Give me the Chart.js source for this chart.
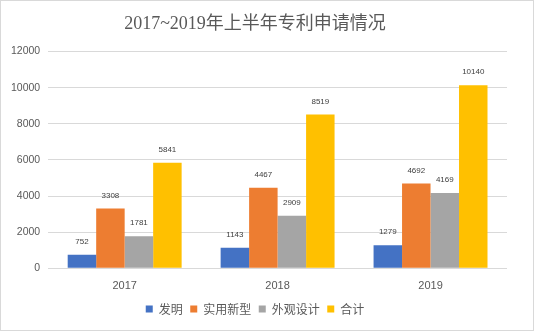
<!DOCTYPE html>
<html><head><meta charset="utf-8">
<script src="https://cdn.jsdelivr.net/npm/chart.js@4"></script>
<style>
html,body{margin:0;padding:0;background:#fff;}
#wrap{position:relative;width:532px;height:329px;border:1px solid #d9d9d9;}
canvas{display:block;}
</style></head><body>
<div id="wrap"><canvas id="c" width="532" height="329"></canvas></div>
<script>
const categories = ['2017', '2018', '2019'];
const seriesNames = ['发明', '实用新型', '外观设计', '合计'];
const invention = [752, 1143, 1279];
const utility = [3308, 4467, 4692];
const design = [1781, 2909, 4169];
const total = [5841, 8519, 10140];
const yTicks = [0, 2000, 4000, 6000, 8000, 10000, 12000];
const colors = ['#4472c4', '#ed7d31', '#a5a5a5', '#ffc000'];
const titleText = '2017~2019年上半年专利申请情况';

const labelPlugin = {
  id: 'barLabels',
  afterDatasetsDraw(chart) {
    const ctx = chart.ctx;
    ctx.save();
    ctx.font = '8px "Liberation Sans", sans-serif';
    ctx.fillStyle = '#404040';
    ctx.textAlign = 'center';
    ctx.textBaseline = 'middle';
    chart.data.datasets.forEach((ds, i) => {
      chart.getDatasetMeta(i).data.forEach((bar, j) => {
        ctx.fillText(String(ds.data[j]), bar.x, bar.y - 13);
      });
    });
    ctx.restore();
  }
};

new Chart(document.getElementById('c'), {
  type: 'bar',
  data: {
    labels: categories,
    datasets: [invention, utility, design, total].map((d, i) => ({
      label: seriesNames[i],
      data: d,
      backgroundColor: colors[i],
      borderWidth: 0,
      categoryPercentage: 0.745,
      barPercentage: 1.0
    }))
  },
  options: {
    responsive: false,
    animation: false,
    layout: { padding: { left: 2, right: 26, top: 0, bottom: 5 } },
    plugins: {
      title: {
        display: true,
        text: titleText,
        color: '#595959',
        font: { family: '"Liberation Serif", "Noto Sans CJK SC", serif', size: 18, weight: 'normal' },
        padding: { top: 12, bottom: 17 }
      },
      legend: {
        position: 'bottom',
        labels: {
          boxWidth: 7, boxHeight: 7, padding: 7.5,
          color: '#595959',
          font: { family: '"Noto Sans CJK SC", sans-serif', size: 12 }
        }
      },
      tooltip: { enabled: false }
    },
    scales: {
      x: {
        grid: { display: false },
        border: { display: false },
        ticks: { color: '#595959', font: { family: '"Liberation Sans", sans-serif', size: 11 }, padding: 3 }
      },
      y: {
        min: 0, max: 12000,
        afterBuildTicks(axis) { axis.ticks = yTicks.map(v => ({ value: v })); },
        grid: { color: '#d9d9d9', drawTicks: false },
        border: { display: false },
        ticks: { color: '#595959', font: { family: '"Liberation Sans", sans-serif', size: 10.5 }, padding: 8,
          callback: (v) => String(v) }
      }
    }
  },
  plugins: [labelPlugin]
});
</script>
</body></html>
